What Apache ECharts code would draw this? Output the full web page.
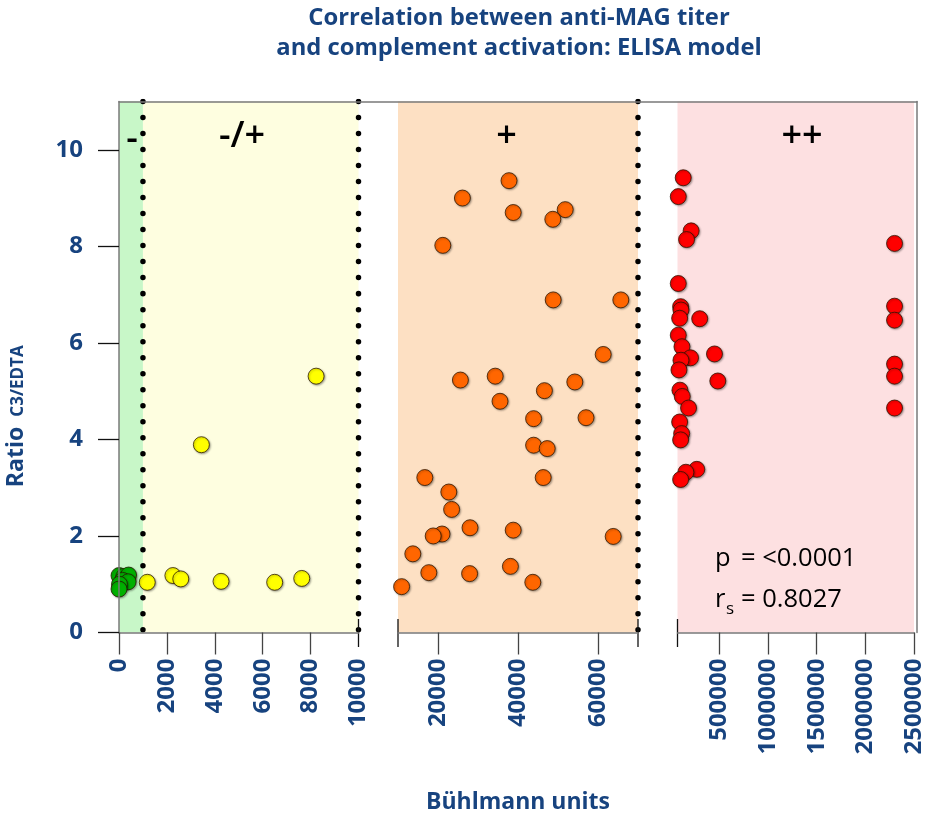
<!DOCTYPE html>
<html><head><meta charset="utf-8">
<script src="https://cdn.jsdelivr.net/npm/echarts@6/dist/echarts.min.js"></script>
<style>html,body{margin:0;padding:0;background:#fff}#c{width:926px;height:817px}</style>
</head><body><div id="c"></div>
<script>
// ---- data ----
const titleText = 'Correlation between anti-MAG titer\nand complement activation: ELISA model';
const xName = 'Bühlmann units';
const yNameMain = 'Ratio';
const yNameSub = 'C3/EDTA';
const zoneLabels = ['-', '-/+', '+', '++'];
const statP = '= <0.0001';
const statR = '= 0.8027';

const yTicks = [0, 2, 4, 6, 8, 10];
const seg1Range = [0, 10000];
const seg2Range = [10000, 70000];
const seg3Range = [70000, 2500000];
const seg1Ticks = [0, 2000, 4000, 6000, 8000];
const seg1Labels = [0, 2000, 4000, 6000, 8000, 10000];
const seg2Ticks = [20000, 40000, 60000];
const seg3Ticks = [500000, 1000000, 1500000, 2000000, 2500000];
const negLimit = 1000;   // "-" / "-/+" cut-off
const dottedLines1 = [1000, 10000];
const dottedLines2 = [70000];

// negative (-)
const greenX = [0, 200, 400, 150, 380, 20, 0];
const greenY = [1.18, 1.16, 1.19, 1.08, 1.05, 1.00, 0.90];
// -/+
const yellowX = [1180, 2250, 2580, 3440, 4260, 6500, 7630, 8230];
const yellowY = [1.04, 1.18, 1.11, 3.89, 1.06, 1.04, 1.12, 5.31];
// +
const orangeX = [37750, 26100, 38800, 51800, 48700, 21200, 48800, 65700, 61300, 25600, 34300, 46600, 54200,
  35500, 43900, 57000, 43900, 47300, 16700, 46300, 22700, 23400, 28000, 38800, 21000, 18800, 63800,
  13700, 17700, 27900, 38100, 43700, 10900];
const orangeY = [9.36, 9.00, 8.70, 8.76, 8.56, 8.02, 6.89, 6.89, 5.76, 5.23, 5.31, 5.01, 5.19,
  4.79, 4.43, 4.45, 3.88, 3.81, 3.21, 3.21, 2.91, 2.55, 2.17, 2.12, 2.04, 2.00, 1.99,
  1.63, 1.24, 1.22, 1.37, 1.04, 0.95];
// ++
const redX = [128800, 78100, 210000, 163000, 2300000, 78000, 102000, 105500, 92000, 298000, 2300000, 2300000,
  78000, 115700, 204000, 105500, 85000, 450000, 484000, 2300000, 2300000, 95000, 119000, 183600, 2300000,
  92000, 112600, 102000, 268000, 156000, 102000];
const redY = [9.42, 9.03, 8.32, 8.14, 8.06, 7.23, 6.75, 6.68, 6.51, 6.50, 6.76, 6.47,
  6.16, 5.92, 5.69, 5.64, 5.44, 5.77, 5.21, 5.56, 5.31, 5.02, 4.89, 4.65, 4.65,
  4.36, 4.12, 3.99, 3.38, 3.32, 3.17];

// ---- styling ----
const BLUE = '#17437f';
const FONT = 'Open Sans';
const AXIS_GRAY = '#7a7a7a';
const zip = (xs, ys) => xs.map((x, i) => [x, ys[i]]);
const TOP = 101.5, H = 531;
const grids = [
  { left: 119, top: TOP, width: 239.5, height: H },
  { left: 398, top: TOP, width: 240, height: H },
  { left: 677.5, top: TOP, width: 239.5, height: H },
  { left: 119, top: TOP, width: 798, height: H }
];
const labelStyle = { color: BLUE, fontFamily: FONT, fontWeight: 'bold', fontSize: 24 };
function xAx(idx, range, ticks, labels) {
  return {
    type: 'value', gridIndex: idx, min: range[0], max: range[1], position: 'bottom', z: 10,
    axisLine: { show: true, onZero: false, lineStyle: { color: AXIS_GRAY, width: 1.5 } },
    axisTick: { show: true, length: 22, customValues: ticks, lineStyle: { color: '#444', width: 1.3 } },
    axisLabel: Object.assign({ show: true, rotate: 90, margin: 26, customValues: labels,
      formatter: v => String(v) }, labelStyle),
    splitLine: { show: false }
  };
}
function yAx(idx, show) {
  return {
    type: 'value', gridIndex: idx, min: 0, max: 11, show: show, z: 10,
    axisLine: { show: true, onZero: false, lineStyle: { color: AXIS_GRAY, width: 1.5 } },
    axisTick: { show: true, length: 21, customValues: yTicks, lineStyle: { color: '#111', width: 1.3 } },
    axisLabel: Object.assign({ margin: 36, customValues: yTicks, formatter: v => String(v) }, labelStyle),
    splitLine: { show: false }
  };
}
function scatter(xi, pts, color) {
  return {
    type: 'scatter', xAxisIndex: xi, yAxisIndex: xi, data: pts, symbol: 'circle', symbolSize: 16, z: 5,
    itemStyle: { color: color, borderColor: 'rgba(40,20,0,0.85)', borderWidth: 0.9,
      shadowBlur: 2, shadowColor: 'rgba(0,0,0,0.35)', shadowOffsetX: 1, shadowOffsetY: 1, opacity: 1 },
    emphasis: { disabled: true }
  };
}
function band(xi, from, to, color) {
  return {
    type: 'line', xAxisIndex: xi, yAxisIndex: xi, data: [], z: 1, silent: true,
    markArea: { silent: true, itemStyle: { color: color }, data: [[{ xAxis: from }, { xAxis: to }]] }
  };
}
function dotted(xi, x) {
  return {
    type: 'line', xAxisIndex: xi, yAxisIndex: xi, data: [[x, 11], [x, 0]], symbol: 'none', z: 3, silent: true,
    lineStyle: { color: '#000', width: 5.5, type: [0.01, 16], cap: 'round' }
  };
}
function brk(xi, x) {
  return {
    type: 'line', xAxisIndex: xi, yAxisIndex: xi, data: [[x, 0.28], [x, -0.3]], symbol: 'none', z: 4,
    clip: false, silent: true, lineStyle: { color: '#111', width: 1.3 }
  };
}

const series = [
  band(0, 0, negLimit, '#c8f7c8'),
  band(0, negLimit, seg1Range[1], '#fefee0'),
  band(1, seg2Range[0], seg2Range[1], '#fde0c3'),
  band(2, seg3Range[0], seg3Range[1], '#fde0e1'),
  ...dottedLines1.map(x => dotted(0, x)),
  ...dottedLines2.map(x => dotted(1, x)),
  brk(0, seg1Range[1]), brk(1, seg2Range[0]), brk(1, seg2Range[1]), brk(2, seg3Range[0]),
  scatter(0, zip(greenX, greenY), '#00b000'),
  scatter(0, zip(yellowX, yellowY), '#ffff00'),
  scatter(1, zip(orangeX, orangeY), '#ff6600'),
  scatter(2, zip(redX, redY), '#ff0000')
];

const zoneStyle = { fill: '#000', font: '600 36px "Open Sans"', align: 'center', verticalAlign: 'middle' };
const statStyle = { fill: '#000', font: '25.5px "Open Sans"', align: 'left', verticalAlign: 'middle' };
const option = {
  animation: false,
  title: {
    text: titleText, left: 519, top: 3, textAlign: 'center', padding: 0,
    textStyle: { color: BLUE, fontFamily: FONT, fontWeight: 'bold', fontSize: 23.8, lineHeight: 30 }
  },
  grid: grids,
  xAxis: [
    xAx(0, seg1Range, seg1Ticks, seg1Labels),
    xAx(1, seg2Range, seg2Ticks, seg2Ticks),
    xAx(2, seg3Range, seg3Ticks, seg3Ticks),
    { type: 'value', gridIndex: 3, min: 0, max: 1, position: 'top', z: 10,
      axisLine: { show: true, onZero: false, lineStyle: { color: AXIS_GRAY, width: 1.5 } },
      axisTick: { show: false }, axisLabel: { show: false }, splitLine: { show: false } }
  ],
  yAxis: [
    yAx(0, true), yAx(1, false), yAx(2, false),
    { type: 'value', gridIndex: 3, min: 0, max: 11, position: 'right', z: 10,
      axisLine: { show: true, onZero: false, lineStyle: { color: AXIS_GRAY, width: 1.5 } },
      axisTick: { show: false }, axisLabel: { show: false }, splitLine: { show: false } }
  ],
  series: series,
  graphic: [
    { type: 'text', x: 132, y: 140, z: 10, style: Object.assign({ text: zoneLabels[0] }, zoneStyle) },
    { type: 'text', x: 242, y: 137, z: 10, style: Object.assign({ text: zoneLabels[1] }, zoneStyle) },
    { type: 'text', x: 506.5, y: 137, z: 10, style: Object.assign({ text: zoneLabels[2] }, zoneStyle) },
    { type: 'text', x: 802, y: 137, z: 10, style: Object.assign({ text: zoneLabels[3] }, zoneStyle) },
    { type: 'text', x: 715, y: 559, z: 10, style: Object.assign({ text: 'p' }, statStyle) },
    { type: 'text', x: 741, y: 559, z: 10, style: Object.assign({ text: statP }, statStyle) },
    { type: 'text', x: 715, y: 600, z: 10, style: Object.assign({ text: 'r' }, statStyle) },
    { type: 'text', x: 726, y: 609, z: 10, style: { text: 's', fill: '#000', font: '17px "Open Sans"', align: 'left', verticalAlign: 'middle' } },
    { type: 'text', x: 741, y: 600, z: 10, style: Object.assign({ text: statR }, statStyle) },
    { type: 'text', x: 518, y: 802, z: 10, style: { text: xName, fill: BLUE, font: 'bold 23px "Open Sans"', align: 'center', verticalAlign: 'middle' } },
    { type: 'text', x: 16, y: 457, rotation: Math.PI / 2, z: 10, style: { text: yNameMain, fill: BLUE, font: 'bold 23px "Open Sans"', align: 'center', verticalAlign: 'middle' } },
    { type: 'text', x: 18, y: 381, rotation: Math.PI / 2, z: 10, style: { text: yNameSub, fill: BLUE, font: 'bold 17px "Open Sans"', align: 'center', verticalAlign: 'middle' } }
  ]
};
const chart = echarts.init(document.getElementById('c'), null, { renderer: 'canvas' });
chart.setOption(option);
</script>
</body></html>
